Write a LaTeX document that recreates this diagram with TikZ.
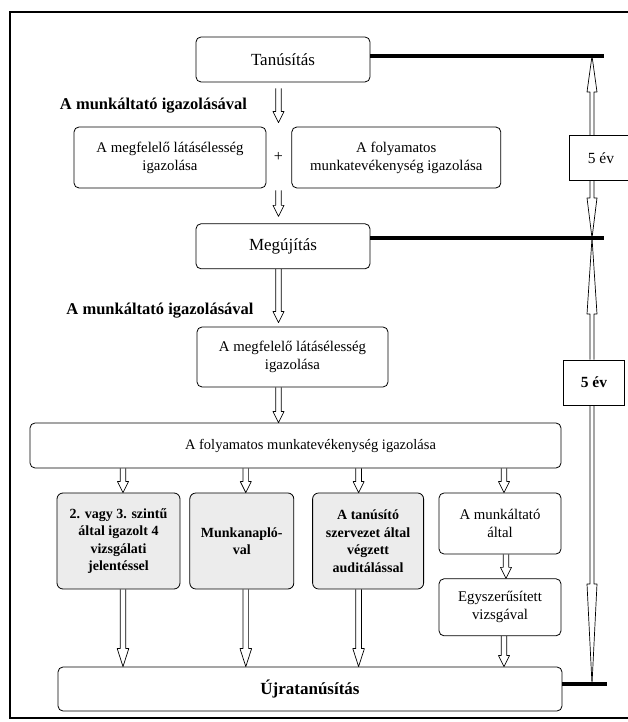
\documentclass[tikz,border=0pt]{standalone}
\usepackage{fontspec}
\setmainfont{Liberation Serif}
\usetikzlibrary{arrows.meta, positioning, calc}
\tikzset{
    stage/.style={
        rectangle,
        draw=black,
        line width=0.8pt,
        rounded corners=5pt,
        minimum width=174pt,
        minimum height=45pt,
        fill=white,
        font=\fontsize{17pt}{19pt}\selectfont
    },
    proof/.style={
        rectangle,
        draw=black,
        line width=0.8pt,
        rounded corners=5pt,
        inner sep=2pt,
        align=center,
        fill=white,
        font=\fontsize{14.8pt}{18pt}\selectfont
    },
    method/.style={
        rectangle,
        draw=black,
        line width=0.8pt,
        rounded corners=6pt,
        inner sep=2pt,
        align=center,
        minimum height=96pt,
        fill=gray!15,
        font=\fontsize{14pt}{17.5pt}\selectfont\bfseries
    },
    note/.style={
        inner sep=0pt,
        font=\fontsize{16.5pt}{19pt}\selectfont\bfseries
    },
    period/.style={
        rectangle,
        draw=black,
        line width=0.8pt,
        minimum height=45pt,
        inner xsep=10pt,
        anchor=west,
        align=left,
        fill=white,
        font=\fontsize{15.5pt}{18pt}\selectfont
    },
    timeline/.style={
        draw=black,
        line width=3.2pt
    },
    outerframe/.style={
        draw=black,
        line width=1.3pt
    },
    % hollow arrow: half shaft width, head length, half head width
    hollowarrow/.style n args={3}{
        draw=black,
        line width=0.7pt,
        line join=round,
        to path={
            ($(\tikztotarget)!#2!(\tikztostart)$) coordinate (hab)
            ($(\tikztostart)!#1!90:(\tikztotarget)$)
            -- ($(hab)!#1!-90:(\tikztostart)$)
            -- ($(hab)!#3!-90:(\tikztostart)$)
            -- (\tikztotarget)
            -- ($(hab)!#3!90:(\tikztostart)$)
            -- ($(hab)!#1!90:(\tikztostart)$)
            -- ($(\tikztostart)!#1!-90:(\tikztotarget)$)
        }
    },
    flowarrow/.style={hollowarrow={2.8pt}{11pt}{5.5pt}},
    longarrow/.style={hollowarrow={2.8pt}{18pt}{5.8pt}},
    yeararrow/.style={hollowarrow={2pt}{#1}{5pt}}
}
\begin{document}
\begin{tikzpicture}[x=1pt, y=1pt]
\useasboundingbox (0,0) rectangle (628,722);
\clip (0,0) rectangle (628,722);

% Outer frame
\draw[outerframe] (640,710) -- (10,710) -- (10,4) -- (640,4);

% Certification
\node[stage] (tanus) at (283,662.5) {Tanúsítás};
\node[note] (lbl1) at (153.5,616) {A munkáltató igazolásával};
\node[proof, minimum width=192pt, minimum height=61pt] (megf1) at (170,564.5) {A megfelelő látásélesség\\igazolása};
\node[proof, right=25pt of megf1, minimum width=209pt, minimum height=61pt] (foly1) {A folyamatos\\munkatevékenység igazolása};
\node[font=\fontsize{16pt}{18pt}\selectfont, inner sep=0pt] (plus) at (278.5,565) {+};

% Renewal
\node[stage, below=141pt of tanus] (meguj) {Megújítás};
\node[note] (lbl2) at (160,411) {A munkáltató igazolásával};
\node[proof, minimum width=191pt, minimum height=60pt] (megf2) at (292.5,365) {A megfelelő látásélesség\\igazolása};
\node[proof, minimum width=531pt, minimum height=45pt, font=\fontsize{14.5pt}{18pt}\selectfont] (folyw) at (295.5,276.5) {\hspace*{30pt}A folyamatos munkatevékenység igazolása};

% Ways of proof
\node[method, minimum width=123pt] (c1) at (118.5,181) {2. vagy 3. szintű\\által igazolt 4\\vizsgálati\\jelentéssel};
\node[method, right=9pt of c1, minimum width=104pt] (c2) {Munkanapló-\\val};
\node[method, right=18pt of c2, minimum width=111pt] (c3) {A tanúsító\\szervezet által\\végzett\\auditálással};
\node[proof, minimum width=122pt, minimum height=61pt] (c4) at (500,198.5) {A munkáltató\\által};
\node[proof, below=24pt of c4, minimum width=122pt, minimum height=57pt] (c5) {Egyszerűsített\\vizsgával};

% Recertification
\node[stage, font=\fontsize{17pt}{20pt}\selectfont\bfseries, minimum width=504pt, minimum height=44pt] (ujra) at (310,33) {Újratanúsítás};

% Validity periods
\node[period, minimum width=63pt] (ev1) at (569,564) {5 év};
\node[period, minimum width=61pt, font=\fontsize{15.5pt}{18pt}\selectfont\bfseries] (ev2) at (563,339.5) {5 év};
\coordinate (vx) at (592,0);
\coordinate (tline) at (604,666);
\coordinate (mline) at (604,484);
\coordinate (uline) at (607,38);

\draw[yeararrow=36pt] (ev1.north -| vx) to (vx |- tline);
\draw[yeararrow=40pt] (ev1.south -| vx) to (vx |- mline);
\draw[yeararrow=76pt] (ev2.north -| vx) to (vx |- mline);
\draw[yeararrow=100pt] (ev2.south -| vx) to (vx |- uline);

\draw[timeline] (tanus.east |- tline) -- (tline);
\draw[timeline] (meguj.east |- mline) -- (mline);
\draw[timeline] (ujra.east |- uline) -- (uline);

% Flow
\draw[flowarrow] ([yshift=-6pt]plus |- tanus.south) to ([yshift=4pt]plus |- megf1.north);
\draw[flowarrow] ([yshift=-2pt]plus |- megf1.south) to ([yshift=7pt]plus |- meguj.north);
\draw[flowarrow] (plus |- meguj.south) to ([yshift=4pt]plus |- megf2.north);
\draw[flowarrow] (plus |- megf2.south) to (plus |- folyw.north);

\draw[flowarrow] ([xshift=4.5pt]c1.north |- folyw.south) to ([xshift=4.5pt]c1.north);
\draw[flowarrow] ([xshift=4pt]c2.north |- folyw.south) to ([xshift=4pt]c2.north);
\draw[flowarrow] ([xshift=-9.5pt]c3.north |- folyw.south) to ([xshift=-9.5pt]c3.north);
\draw[flowarrow] ([xshift=4pt]c4.north |- folyw.south) to ([xshift=4pt]c4.north);
\draw[flowarrow] ([xshift=6pt]c4.south) to ([xshift=6pt]c5.north);

\draw[longarrow] ([xshift=4.5pt]c1.south) to ([xshift=4.5pt]c1.south |- ujra.north);
\draw[longarrow] ([xshift=4pt]c2.south) to ([xshift=4pt]c2.south |- ujra.north);
\draw[longarrow] ([xshift=-9.5pt]c3.south) to ([xshift=-9.5pt]c3.south |- ujra.north);
\draw[flowarrow] ([xshift=4pt]c5.south) to ([xshift=4pt]c5.south |- ujra.north);

\end{tikzpicture}
\end{document}
